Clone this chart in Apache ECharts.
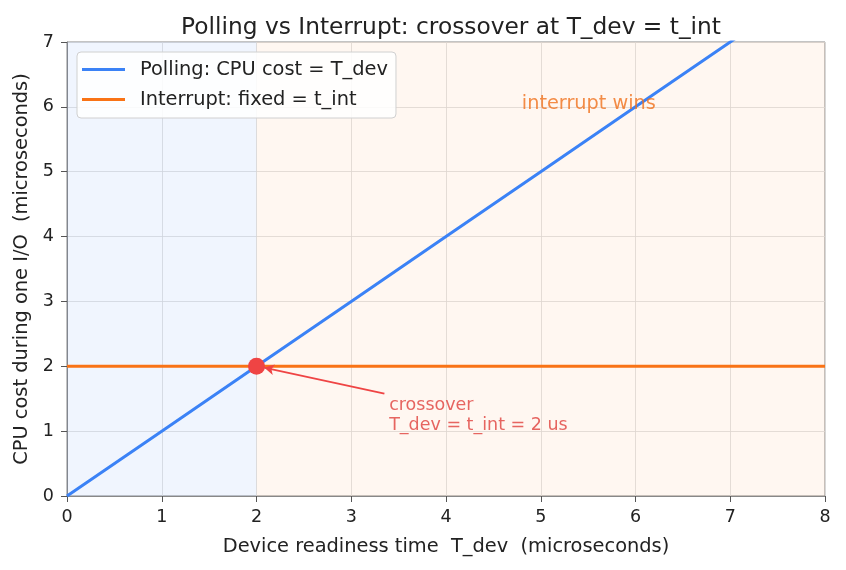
<!DOCTYPE html>
<html>
<head>
<meta charset="utf-8">
<script src="https://cdn.jsdelivr.net/npm/echarts@6/dist/echarts.min.js"></script>
<style>
html,body{margin:0;padding:0;background:#fff}
#chart{width:846px;height:570px}
</style>
</head>
<body>
<div id="chart"></div>
<script>
// data
var devTimes = [0, 1, 2, 3, 4, 5, 6, 7, 8];
var pollingCost = [0, 1, 2, 3, 4, 5, 6, 7, 8];
var interruptCost = [2, 2, 2, 2, 2, 2, 2, 2, 2];
var crossover = [2, 2];
var arrowFrom = [3.35, 1.58];
var arrowTo = [2.08, 1.98];
var crossoverLabelAt = [3.4, 0.93];
var winsLabelAt = [4.8, 5.9];
var xTicks = ['0', '1', '2', '3', '4', '5', '6', '7', '8'];

var font = '"DejaVu Sans", sans-serif';
var fs = 19.4;
var tickFs = 17.5;
var myChart = echarts.init(document.getElementById('chart'));

var option = {
  animation: false,
  backgroundColor: '#fff',
  textStyle: {fontFamily: font},
  title: {
    text: 'Polling vs Interrupt: crossover at T_dev = t_int',
    left: 446, textAlign: 'center', top: 11,
    textStyle: {fontFamily: font, fontSize: 23.3, fontWeight: 'normal', color: '#222'}
  },
  grid: {left: 67, right: 21, top: 42, bottom: 74, show: true, borderColor: '#888', borderWidth: 1},
  legend: {
    data: ['Polling: CPU cost = T_dev', 'Interrupt: fixed = t_int'],
    orient: 'vertical', left: 77, top: 52,
    itemWidth: 43, itemHeight: 3, itemGap: 11, icon: 'rect',
    backgroundColor: 'rgba(255,255,255,0.85)', borderColor: '#d0d0d0', borderWidth: 1, borderRadius: 4,
    padding: [8, 8, 9, 5],
    textStyle: {fontFamily: font, fontSize: fs, color: '#222', padding: [0, 0, 0, 10]}
  },
  xAxis: {
    type: 'value', min: 0, max: 8, interval: 1,
    name: 'Device readiness time  T_dev  (microseconds)',
    nameLocation: 'middle', nameGap: 41,
    nameTextStyle: {fontFamily: font, fontSize: fs, color: '#222'},
    axisLine: {show: true, lineStyle: {color: '#888'}},
    axisTick: {show: true, length: 6, lineStyle: {color: '#555'}},
    axisLabel: {fontFamily: font, fontSize: tickFs, color: '#222', margin: 12,
      formatter: function (v) { return xTicks[v]; }},
    splitLine: {show: true, lineStyle: {color: '#dcdcdc', width: 0.8}}
  },
  yAxis: {
    type: 'value', min: 0, max: 7, interval: 1,
    name: 'CPU cost during one I/O  (microseconds)',
    nameLocation: 'middle', nameGap: 33,
    nameTextStyle: {fontFamily: font, fontSize: fs, color: '#222'},
    axisLine: {show: true, lineStyle: {color: '#888'}},
    axisTick: {show: true, length: 6, lineStyle: {color: '#555'}},
    axisLabel: {fontFamily: font, fontSize: tickFs, color: '#222', margin: 13},
    splitLine: {show: true, lineStyle: {color: '#dcdcdc', width: 0.8}}
  },
  series: [
    {
      name: 'Polling: CPU cost = T_dev', type: 'line',
      data: devTimes.map(function (x, i) { return [x, pollingCost[i]]; }),
      showSymbol: false, clip: true, z: 3,
      lineStyle: {color: '#3b82f6', width: 3}, itemStyle: {color: '#3b82f6'},
      markArea: {
        silent: true,
        data: [
          [{xAxis: 0, itemStyle: {color: 'rgba(59,130,246,0.08)'}}, {xAxis: 2}],
          [{xAxis: 2, itemStyle: {color: 'rgba(249,115,22,0.06)'}}, {xAxis: 8}]
        ]
      }
    },
    {
      name: 'Interrupt: fixed = t_int', type: 'line',
      data: devTimes.map(function (x, i) { return [x, interruptCost[i]]; }),
      showSymbol: false, z: 3,
      lineStyle: {color: '#f97316', width: 3}, itemStyle: {color: '#f97316'}
    },
    {
      type: 'scatter', data: [crossover], symbolSize: 17, z: 5,
      itemStyle: {color: '#ef4444', opacity: 1}
    },
    {
      type: 'scatter', symbolSize: 0, z: 4, silent: true,
      data: [
        {value: crossoverLabelAt, label: {show: true, position: [0, 0], align: 'left', verticalAlign: 'bottom',
          formatter: 'crossover\nT_dev = t_int = 2 us', color: '#e0403c', fontSize: 17.5, lineHeight: 20, fontFamily: font}},
        {value: winsLabelAt, label: {show: true, position: [0, 0], align: 'left', verticalAlign: 'bottom',
          formatter: 'interrupt wins', color: '#f0701c', fontSize: 19.3, fontFamily: font}}
      ],
      markLine: {
        silent: true, symbolSize: [8, 10], animation: false,
        lineStyle: {color: '#ef4444', width: 1.8, type: 'solid'},
        label: {show: false},
        data: [[{coord: arrowFrom, symbol: 'none'}, {coord: arrowTo, symbol: 'arrow'}]]
      }
    }
  ]
};

myChart.setOption(option);
</script>
</body>
</html>
